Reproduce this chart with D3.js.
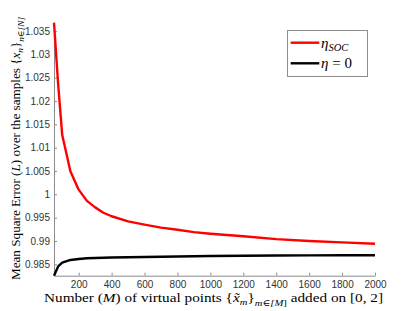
<!DOCTYPE html>
<html>
<head>
<meta charset="utf-8">
<script src="https://cdn.jsdelivr.net/npm/d3@7"></script>
<style>
  body { margin: 0; background: #fff; }
  svg { display: block; }
</style>
</head>
<body>
<div id="chart"></div>
<script>
// data
var pointsM = [50, 75, 100, 150, 200, 250, 300, 350, 400, 500, 600, 700, 800, 900, 1000, 1200, 1400, 1600, 1800, 2000];
var etaSOC = [1.0368, 1.0237, 1.0127, 1.0049, 1.0010, 0.9986, 0.9972, 0.99605, 0.9953, 0.9942, 0.9935, 0.99285, 0.9924, 0.9919, 0.99155, 0.9910, 0.9904, 0.9900, 0.9897, 0.9894];
var etaZero = [0.98255, 0.98453, 0.98534, 0.98592, 0.98614, 0.98628, 0.98636, 0.98641, 0.98645, 0.98652, 0.98657, 0.98662, 0.98667, 0.98673, 0.98678, 0.98683, 0.98687, 0.98690, 0.98692, 0.98693];
var xTicks = [200, 400, 600, 800, 1000, 1200, 1400, 1600, 1800, 2000];
var yTicks = [0.985, 0.99, 0.995, 1, 1.005, 1.01, 1.015, 1.02, 1.025, 1.03, 1.035];

var width = 414, height = 311;
var mLeft = 54, mRight = 375, mTop = 22.7, mBottom = 275.7;
var serif = '"Liberation Serif", "DejaVu Serif", serif';
var sans = '"Liberation Sans", Arial, sans-serif';

var svg = d3.select('#chart').append('svg')
  .attr('width', width)
  .attr('height', height);

var x = d3.scaleLinear().domain([50, 2000]).range([mLeft, mRight]);
var y = d3.scaleLinear().domain([0.98255, 1.0368]).range([mBottom, mTop]);

// axes (MATLAB style, ticks pointing inward)
var xAxis = svg.append('g')
  .attr('transform', 'translate(0,' + mBottom + ')')
  .call(d3.axisBottom(x).tickValues(xTicks).tickSizeInner(-3).tickSizeOuter(0).tickPadding(5)
    .tickFormat(d3.format('d')));
var yAxis = svg.append('g')
  .attr('transform', 'translate(' + mLeft + ',0)')
  .call(d3.axisLeft(y).tickValues(yTicks).tickSizeInner(-3).tickSizeOuter(0).tickPadding(4)
    .tickFormat(function (d) { return String(+d.toFixed(3)); }));

[xAxis, yAxis].forEach(function (a) {
  a.select('.domain').attr('stroke', '#8c8c8c').attr('stroke-width', 1);
  a.selectAll('.tick line').attr('stroke', '#8c8c8c');
  a.selectAll('.tick text').attr('fill', '#333').style('font-family', sans).style('font-size', '10px');
});

// curves
var line = d3.line()
  .x(function (d, i) { return x(pointsM[i]); })
  .y(function (d) { return y(d); });

svg.append('path')
  .datum(etaZero)
  .attr('fill', 'none')
  .attr('stroke', '#000')
  .attr('stroke-width', 2.4)
  .attr('stroke-linejoin', 'round')
  .attr('d', line);

svg.append('path')
  .datum(etaSOC)
  .attr('fill', 'none')
  .attr('stroke', '#ff0000')
  .attr('stroke-width', 2.4)
  .attr('stroke-linejoin', 'round')
  .attr('d', line);

// little helper for latex-ish labels
function richText(sel, parts, size) {
  parts.forEach(function (p) {
    var t = sel.append('tspan').text(p.t);
    if (p.i) t.style('font-style', 'italic');
    if (p.sub) t.style('font-size', (size * 0.7) + 'px');
    if (p.dy) t.attr('dy', p.dy);
  });
}

// x label
var xl = svg.append('text')
  .attr('x', 213.5)
  .attr('y', 301.5)
  .attr('text-anchor', 'middle')
  .attr('textLength', 339)
  .attr('lengthAdjust', 'spacingAndGlyphs')
  .style('font-family', serif)
  .style('font-size', '13px')
  .attr('fill', '#000');
richText(xl, [
  { t: 'Number (' }, { t: 'M', i: true }, { t: ') of virtual points {' },
  { t: 'x\u0303', i: true }, { t: 'm', i: true, sub: true, dy: 3 },
  { t: '}', dy: -3 }, { t: 'm\u2208[', i: true, sub: true, dy: 4 },
  { t: 'M', i: true, sub: true }, { t: ']', sub: true },
  { t: ' added on [0, 2]', dy: -4 }
], 13);

// y label
var yl = svg.append('text')
  .attr('transform', 'translate(19.5,148.5) rotate(-90)')
  .attr('text-anchor', 'middle')
  .attr('textLength', 263)
  .attr('lengthAdjust', 'spacingAndGlyphs')
  .style('font-family', serif)
  .style('font-size', '12.5px')
  .attr('fill', '#000');
richText(yl, [
  { t: 'Mean Square Error (' }, { t: 'L', i: true }, { t: ') over the samples {' },
  { t: 'x', i: true }, { t: 'n', i: true, sub: true, dy: 3 },
  { t: '}', dy: -3 }, { t: 'n\u2208[N]', i: true, sub: true, dy: 4 },
  { t: '', dy: -4 }
], 12.5);

// legend
var legend = svg.append('g');
legend.append('rect')
  .attr('x', 287.5).attr('y', 30.5)
  .attr('width', 80).attr('height', 46)
  .attr('fill', '#fff')
  .attr('stroke', '#8c8c8c')
  .attr('stroke-width', 1);

var entries = [
  { color: '#ff0000', label: [{ t: '\u03b7', i: true }, { t: 'SOC', i: true, sub: true, dy: 3 }] },
  { color: '#000', label: [{ t: '\u03b7', i: true }, { t: ' = 0' }] }
];
entries.forEach(function (e, i) {
  var ly = 42.7 + i * 20.6;
  legend.append('line')
    .attr('x1', 290.7).attr('x2', 319.3)
    .attr('y1', ly).attr('y2', ly)
    .attr('stroke', e.color)
    .attr('stroke-width', 2.4);
  var t = legend.append('text')
    .attr('x', 321)
    .attr('y', ly + 5)
    .style('font-family', serif)
    .style('font-size', '15px')
    .attr('fill', '#000');
  richText(t, e.label, 15);
});
</script>
</body>
</html>
